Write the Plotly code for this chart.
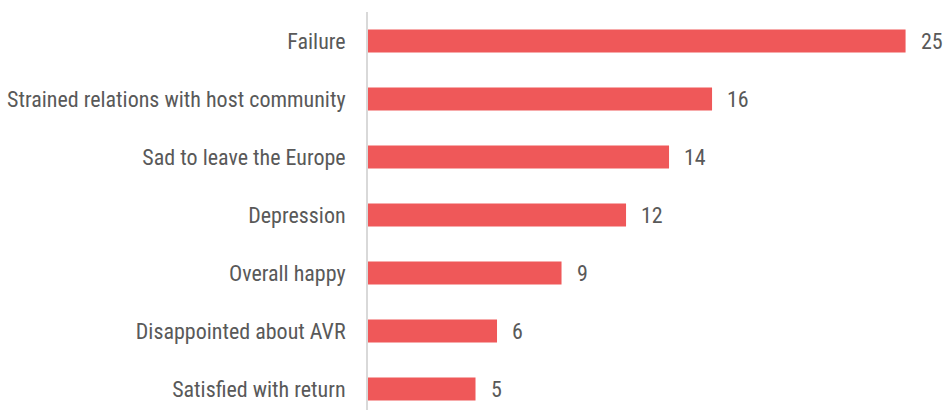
import plotly.graph_objects as go

categories = ["Satisfied with return", "Disappointed about AVR", "Overall happy",
              "Depression", "Sad to leave the Europe",
              "Strained relations with host community", "Failure"]
values = [5, 6, 9, 12, 14, 16, 25]

FONT = "Roboto Condensed, Liberation Sans Narrow, Arial Narrow, sans-serif"
TXT = "#595959"

fig = go.Figure(go.Bar(
    x=values, y=categories, orientation="h",
    marker=dict(color="#EF5859", line=dict(width=0)),
    hoverinfo="skip",
))

for c, v in zip(categories, values):
    fig.add_annotation(x=v, y=c, text=str(v), showarrow=False, xanchor="left",
                       xshift=13, font=dict(family=FONT, size=22, color=TXT))

fig.update_layout(
    width=946, height=410,
    margin=dict(l=368, r=0, t=12, b=0, autoexpand=False),
    paper_bgcolor="white", plot_bgcolor="white",
    bargap=0.6, showlegend=False,
    font=dict(family=FONT, size=22, color=TXT),
)
fig.update_xaxes(range=[0, 26.88], visible=False)
fig.update_yaxes(range=[-0.362, 6.5], showline=True, linecolor="#D9D9D9", linewidth=2,
                 ticks="", showgrid=False, ticklabelstandoff=16,
                 tickfont=dict(family=FONT, size=22, color=TXT))
fig.write_html("out.html", config={"displayModeBar": False},
               post_script="document.body.style.margin='0';"
                           "document.body.style.overflow='hidden';")
